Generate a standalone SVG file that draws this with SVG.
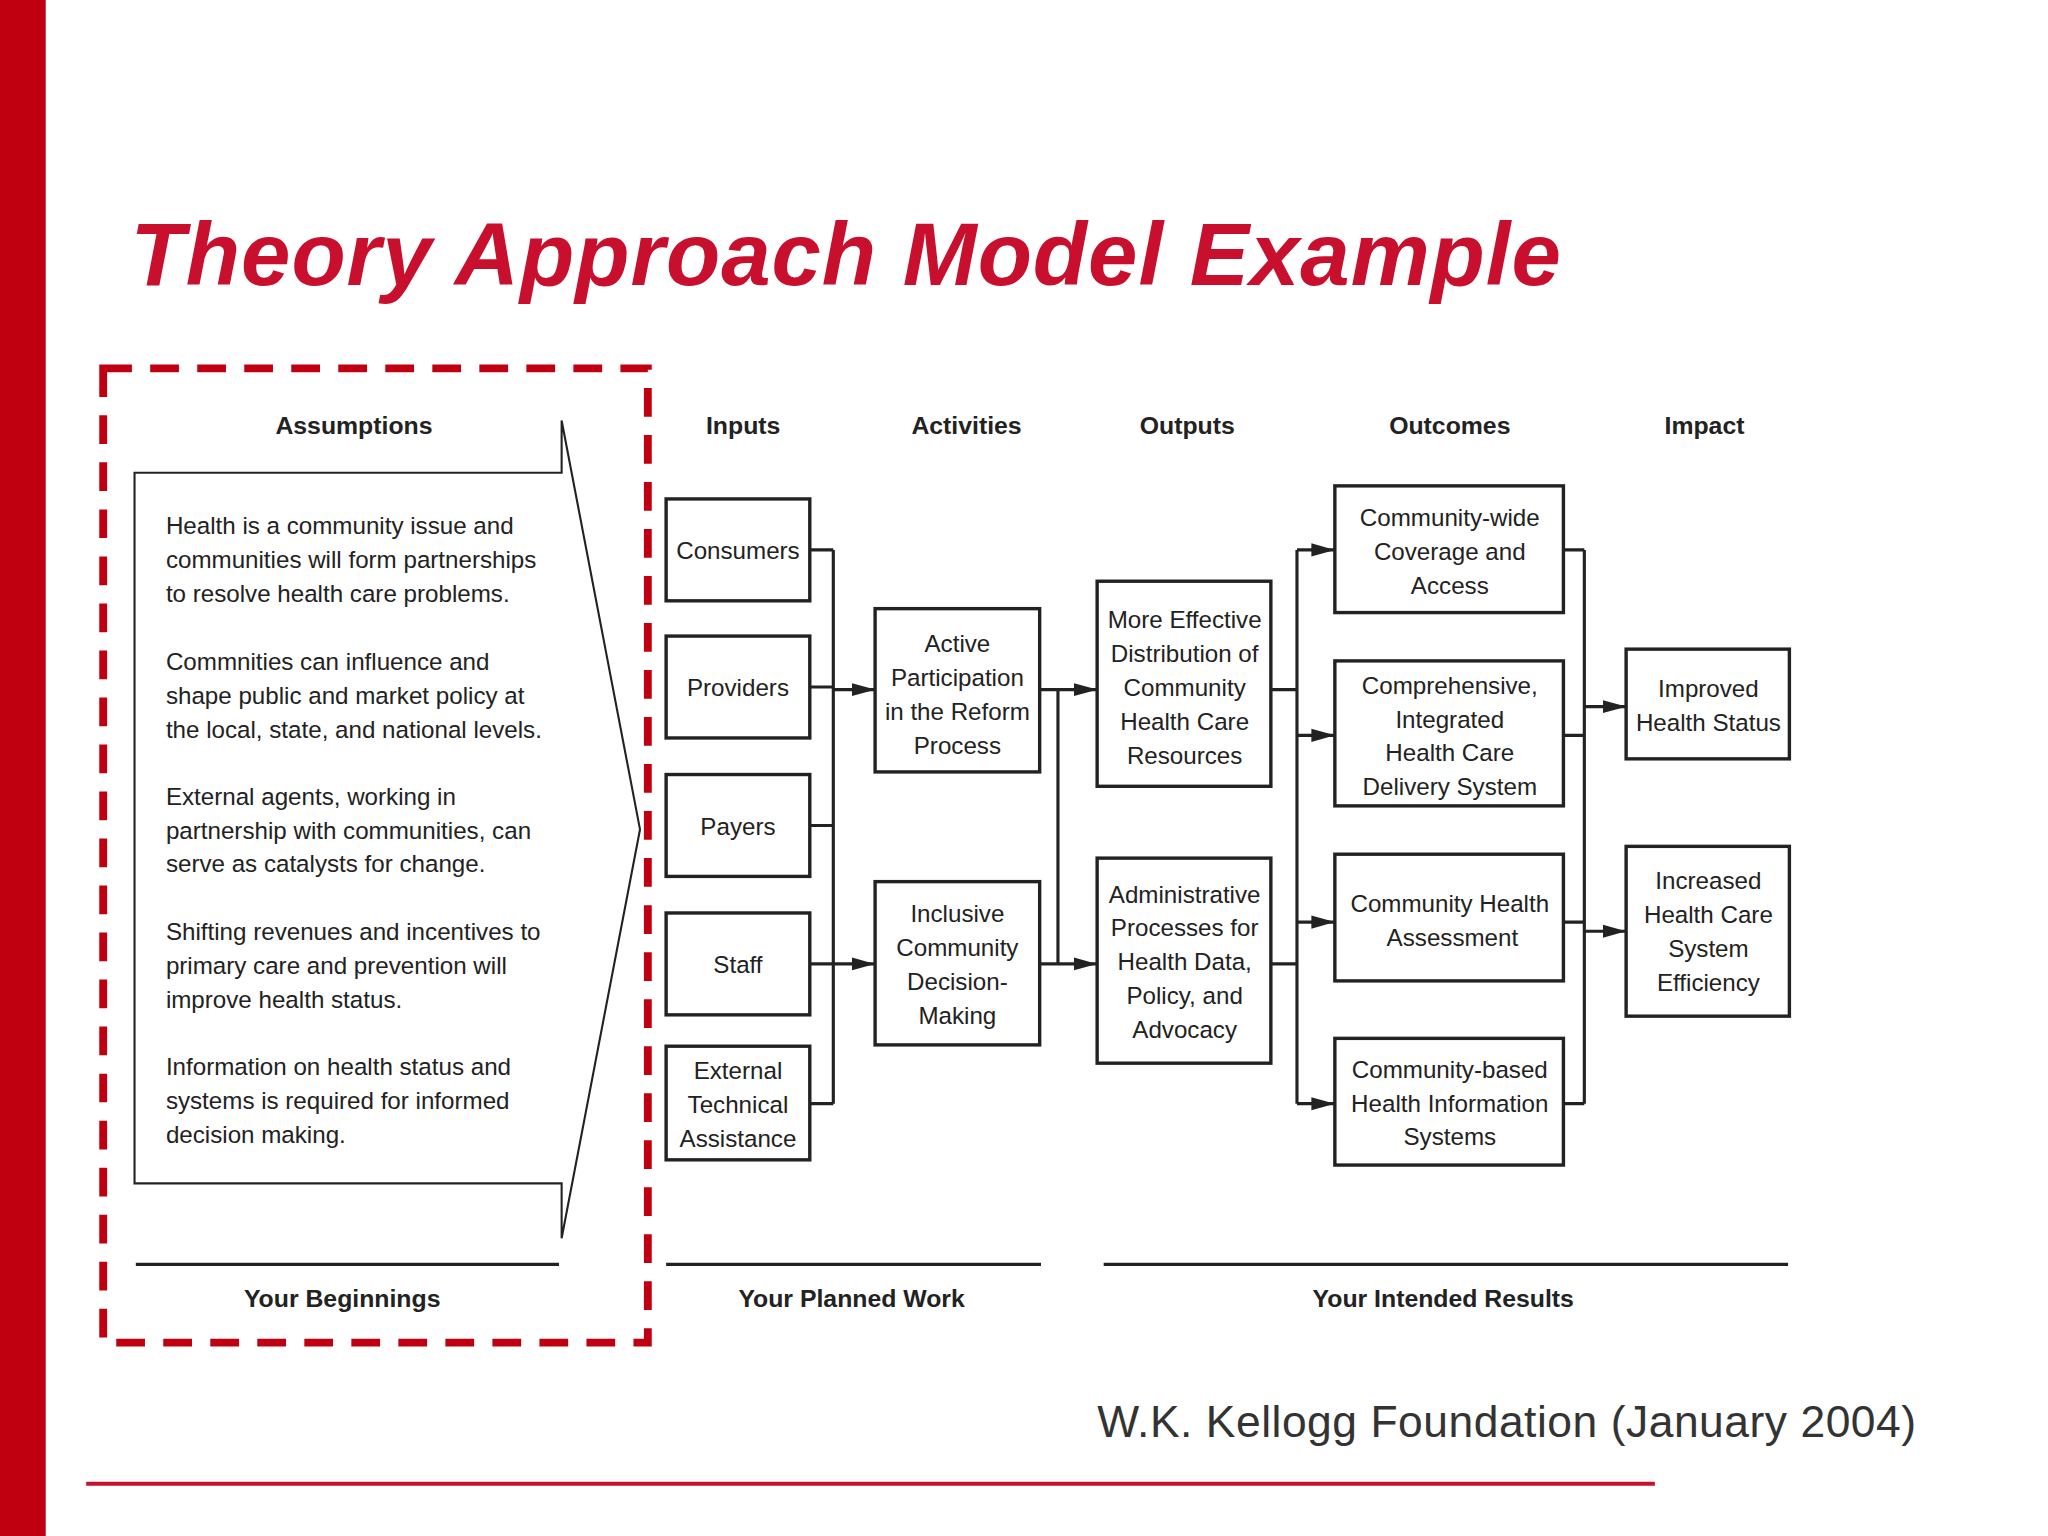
<svg xmlns="http://www.w3.org/2000/svg" width="2048" height="1536" viewBox="0 0 2048 1536">
<defs>
<marker id="ar" viewBox="0 0 18 12" refX="18" refY="6" markerWidth="18" markerHeight="12" markerUnits="userSpaceOnUse" orient="auto"><path d="M0,1 L18,6 L0,11 Z" fill="#222"/></marker>
<style>
.b{fill:#fff;stroke:#222;stroke-width:2.6}
.t{font-family:"Liberation Sans",Arial,sans-serif;font-size:18.5px;fill:#222;text-anchor:middle}
.a{font-family:"Liberation Sans",Arial,sans-serif;font-size:18.5px;fill:#222}
.h{font-family:"Liberation Sans",Arial,sans-serif;font-size:19px;font-weight:bold;fill:#222;text-anchor:middle}
.c{fill:none;stroke:#222;stroke-width:2.4}
.ca{fill:none;stroke:#222;stroke-width:2.4;marker-end:url(#ar)}
</style>
</defs>
<rect width="2048" height="1536" fill="#fff"/>
<g transform="scale(1.30612)">
<rect x="0" y="0" width="35" height="1176" fill="#c00010"/>
<text x="100" y="218" font-family="Liberation Sans,Arial,sans-serif" font-size="68" font-weight="bold" font-style="italic" fill="#c8102e" textLength="1095">Theory Approach Model Example</text>
<rect x="79" y="282" width="417" height="746" fill="none" stroke="#c00010" stroke-width="6" stroke-dasharray="22,14"/>
<g id="assumptions">
<polygon points="103,362 430,362 430,322 490,635 430,948 430,906 103,906" fill="#fff" stroke="#222" stroke-width="1.6"/>
<text class="h" x="271" y="332">Assumptions</text>
<text class="a" x="127" y="409">Health is a community issue and</text>
<text class="a" x="127" y="435">communities will form partnerships</text>
<text class="a" x="127" y="461">to resolve health care problems.</text>
<text class="a" x="127" y="513">Commnities can influence and</text>
<text class="a" x="127" y="539">shape public and market policy at</text>
<text class="a" x="127" y="565">the local, state, and national levels.</text>
<text class="a" x="127" y="616">External agents, working in</text>
<text class="a" x="127" y="642">partnership with communities, can</text>
<text class="a" x="127" y="668">serve as catalysts for change.</text>
<text class="a" x="127" y="720">Shifting revenues and incentives to</text>
<text class="a" x="127" y="746">primary care and prevention will</text>
<text class="a" x="127" y="772">improve health status.</text>
<text class="a" x="127" y="823">Information on health status and</text>
<text class="a" x="127" y="849">systems is required for informed</text>
<text class="a" x="127" y="875">decision making.</text>
</g>
<g id="headers">
<text class="h" x="569" y="332">Inputs</text>
<text class="h" x="740" y="332">Activities</text>
<text class="h" x="909" y="332">Outputs</text>
<text class="h" x="1110" y="332">Outcomes</text>
<text class="h" x="1305" y="332">Impact</text>
</g>
<g id="connectors">
<path class="c" d="M620,421 H638 M620,526 H638 M620,632 H638 M620,738 H638 M620,845 H638 M638,421 V845"/>
<path class="ca" d="M638,528 H670"/>
<path class="ca" d="M638,738 H670"/>
<path class="c" d="M796,528 H810 M796,738 H810 M810,528 V738"/>
<path class="ca" d="M810,528 H840"/>
<path class="ca" d="M810,738 H840"/>
<path class="c" d="M973,528 H993 M973,738 H993 M993,421 V845"/>
<path class="ca" d="M993,421 H1022"/>
<path class="ca" d="M993,563 H1022"/>
<path class="ca" d="M993,706 H1022"/>
<path class="ca" d="M993,845 H1022"/>
<path class="c" d="M1197,421 H1213 M1197,563 H1213 M1197,706 H1213 M1197,845 H1213 M1213,421 V845"/>
<path class="ca" d="M1213,541 H1245"/>
<path class="ca" d="M1213,713 H1245"/>
</g>
<g id="consumers"><rect class="b" x="510" y="382" width="110" height="78"/><text class="t" x="565" y="428">Consumers</text></g>
<g id="providers"><rect class="b" x="510" y="487" width="110" height="78"/><text class="t" x="565" y="533">Providers</text></g>
<g id="payers"><rect class="b" x="510" y="593" width="110" height="78"/><text class="t" x="565" y="639">Payers</text></g>
<g id="staff"><rect class="b" x="510" y="699" width="110" height="78"/><text class="t" x="565" y="745">Staff</text></g>
<g id="external"><rect class="b" x="510" y="801" width="110" height="87"/><text class="t" x="565" y="826">External</text><text class="t" x="565" y="852">Technical</text><text class="t" x="565" y="878">Assistance</text></g>
<g id="active"><rect class="b" x="670" y="466" width="126" height="125"/><text class="t" x="733" y="499">Active</text><text class="t" x="733" y="525">Participation</text><text class="t" x="733" y="551">in the Reform</text><text class="t" x="733" y="577">Process</text></g>
<g id="inclusive"><rect class="b" x="670" y="675" width="126" height="125"/><text class="t" x="733" y="706">Inclusive</text><text class="t" x="733" y="732">Community</text><text class="t" x="733" y="758">Decision-</text><text class="t" x="733" y="784">Making</text></g>
<g id="distribution"><rect class="b" x="840" y="445" width="133" height="157"/><text class="t" x="907" y="481">More Effective</text><text class="t" x="907" y="507">Distribution of</text><text class="t" x="907" y="533">Community</text><text class="t" x="907" y="559">Health Care</text><text class="t" x="907" y="585">Resources</text></g>
<g id="administrative"><rect class="b" x="840" y="657" width="133" height="157"/><text class="t" x="907" y="691">Administrative</text><text class="t" x="907" y="717">Processes for</text><text class="t" x="907" y="743">Health Data,</text><text class="t" x="907" y="769">Policy, and</text><text class="t" x="907" y="795">Advocacy</text></g>
<g id="coverage"><rect class="b" x="1022" y="372" width="175" height="97"/><text class="t" x="1110" y="403">Community-wide</text><text class="t" x="1110" y="429">Coverage and</text><text class="t" x="1110" y="455">Access</text></g>
<g id="comprehensive"><rect class="b" x="1022" y="506" width="175" height="111"/><text class="t" x="1110" y="531">Comprehensive,</text><text class="t" x="1110" y="557">Integrated</text><text class="t" x="1110" y="583">Health Care</text><text class="t" x="1110" y="609">Delivery System</text></g>
<g id="assessment"><rect class="b" x="1022" y="654" width="175" height="97"/><text class="t" x="1110" y="698">Community Health</text><text class="t" x="1112" y="724">Assessment</text></g>
<g id="hisystems"><rect class="b" x="1022" y="795" width="175" height="97"/><text class="t" x="1110" y="825">Community-based</text><text class="t" x="1110" y="851">Health Information</text><text class="t" x="1110" y="877">Systems</text></g>
<g id="improved"><rect class="b" x="1245" y="497" width="125" height="84"/><text class="t" x="1308" y="534">Improved</text><text class="t" x="1308" y="560">Health Status</text></g>
<g id="efficiency"><rect class="b" x="1245" y="648" width="125" height="130"/><text class="t" x="1308" y="681">Increased</text><text class="t" x="1308" y="707">Health Care</text><text class="t" x="1308" y="733">System</text><text class="t" x="1308" y="759">Efficiency</text></g>
<g id="footer">
<path d="M104,968 H428 M510,968 H797 M845,968 H1369" stroke="#222" stroke-width="2.6"/>
<text class="h" x="262" y="1001">Your Beginnings</text>
<text class="h" x="652" y="1001">Your Planned Work</text>
<text class="h" x="1105" y="1001">Your Intended Results</text>
<text x="840" y="1100" font-family="Liberation Sans,Arial,sans-serif" font-size="34" fill="#333" textLength="627">W.K. Kellogg Foundation (January 2004)</text>
<path d="M66,1136 H1267" stroke="#c8102e" stroke-width="3"/>
</g>
</g>
</svg>
